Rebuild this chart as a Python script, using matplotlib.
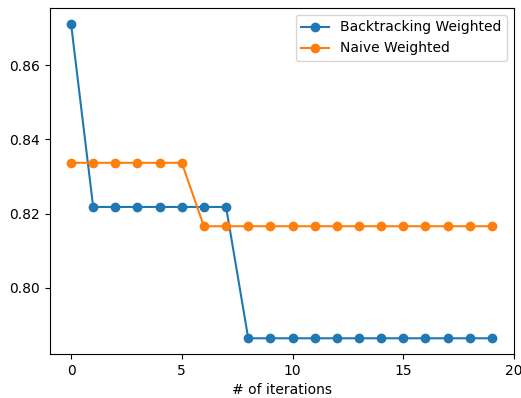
import matplotlib
matplotlib.use("Agg")
import matplotlib.pyplot as plt

# dados
iteracoes = list(range(20))
backtracking = [0.8712] + [0.8218] * 7 + [0.7864] * 12
naive = [0.8337] * 6 + [0.8166] * 14

fig = plt.figure(figsize=(5.21, 3.98), dpi=100)
ax = fig.add_axes([50 / 521, 1 - 354 / 398, 464 / 521, 346 / 398])

ax.plot(iteracoes, backtracking, marker='o', label='Backtracking Weighted')
ax.plot(iteracoes, naive, marker='o', label='Naive Weighted')

ax.set_xlim(-0.95, 20)
ax.set_xticks([0, 5, 10, 15, 20])
ax.set_yticks([0.80, 0.82, 0.84, 0.86])
ax.set_xlabel('# of iterations')
ax.legend(loc='upper right')

fig.savefig('out.png', dpi=100)
